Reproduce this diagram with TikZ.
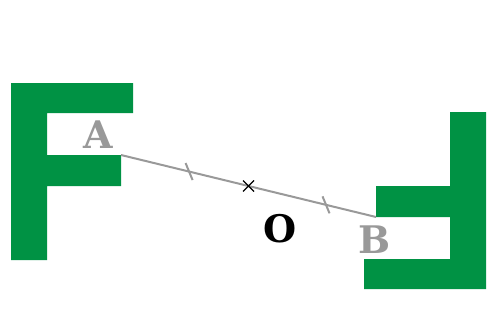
\documentclass[tikz,border=0pt]{standalone}
\usepackage{fontspec}
\setmainfont{DejaVu Serif}
\definecolor{fgreen}{RGB}{0,146,68}
\definecolor{lgray}{RGB}{153,153,153}

\begin{document}
\begin{tikzpicture}[x=1pt, y=1pt,
	letterF/.style={fill=fgreen},
	seg/.style={draw=lgray, line width=2pt},
	lbl/.style={font=\fontsize{38}{40}\selectfont\bfseries, inner sep=0pt}]
	\useasboundingbox (0,0) rectangle (492,333);

	% the F and its image under the half turn about O
	\fill[letterF] (11,250) -- (133,250) -- (133,220) -- (47,220) -- (47,178) -- (121,178)
		-- (121,147) -- (47,147) -- (47,73) -- (11,73) -- cycle;
	\fill[letterF] (486,44) -- (364,44) -- (364,74) -- (450,74) -- (450,116) -- (376,116)
		-- (376,147) -- (450,147) -- (450,221) -- (486,221) -- cycle;

	\coordinate (A) at (121,178);
	\coordinate (B) at (376,116);
	\coordinate (O) at (248.5,147);

	\draw[seg] (A) -- (B) coordinate[pos=0.267] (t1) coordinate[pos=0.804] (t2);
	\draw[seg] ([shift={(-3.5,8.5)}]t1) -- ([shift={(3.5,-8.5)}]t1);
	\draw[seg] ([shift={(-3.5,8.5)}]t2) -- ([shift={(3.5,-8.5)}]t2);
	\draw[line width=1.3pt] ([shift={(-5.5,5.5)}]O) -- ([shift={(5.5,-5.5)}]O)
		([shift={(-5.5,-5.5)}]O) -- ([shift={(5.5,5.5)}]O);

	\node[lbl, text=lgray] (la) at (98,198) {A};
	\node[lbl, text=lgray] (lb) at (375,93) {B};
	\node[lbl] (lo) at (280,104) {O};
\end{tikzpicture}
\end{document}
